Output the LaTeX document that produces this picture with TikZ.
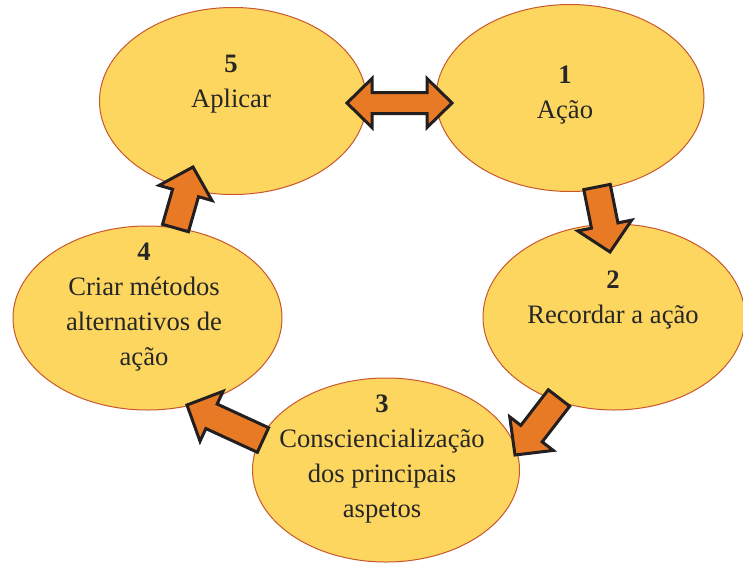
\documentclass[tikz,border=0pt]{standalone}
\usepackage{fontspec}
\setmainfont{Liberation Serif}
\usetikzlibrary{calc,shapes.geometric}
\definecolor{ellfill}{HTML}{FDD660}
\definecolor{ellline}{HTML}{C9572D}
\definecolor{arrfill}{HTML}{E87A25}
\definecolor{arrline}{HTML}{231F20}
\tikzset{
  ell/.style={ellipse, fill=ellfill, draw=ellline, line width=1pt, inner sep=0pt},
  blk/.style={fill=arrfill, draw=arrline, line width=3pt, line join=miter},
  txt/.style={align=center, anchor=base, inner sep=0pt, font=\fontsize{26.6}{35}\selectfont, text=black!85}
}
\newcommand{\blockarr}[2]{%
  \coordinate (hb) at ($(#2)!27pt!(#1)$);
  \filldraw[blk] ($(#1)!13.5pt!90:(#2)$) -- ($(hb)!13.5pt!90:(#2)$) -- ($(hb)!27.5pt!90:(#2)$) -- (#2)
    -- ($(hb)!27.5pt!-90:(#2)$) -- ($(hb)!13.5pt!-90:(#2)$) -- ($(#1)!13.5pt!-90:(#2)$) -- cycle;}
\newcommand{\doublearr}[2]{%
  \coordinate (ha) at ($(#1)!25pt!(#2)$);
  \coordinate (hb) at ($(#2)!25pt!(#1)$);
  \filldraw[blk] (#1) -- ($(ha)!24.5pt!90:(#2)$) -- ($(ha)!10.5pt!90:(#2)$) -- ($(hb)!10.5pt!-90:(#1)$)
    -- ($(hb)!24.5pt!-90:(#1)$) -- (#2) -- ($(hb)!24.5pt!90:(#1)$) -- ($(hb)!10.5pt!90:(#1)$)
    -- ($(ha)!10.5pt!-90:(#2)$) -- ($(ha)!24.5pt!-90:(#2)$) -- cycle;}
\begin{document}
\begin{tikzpicture}[x=1pt,y=-1pt]
\useasboundingbox (0,0) rectangle (743,565);
% ellipses
\node[ell, minimum width=267pt, minimum height=187pt] (e5) at (233,101) {};
\node[ell, minimum width=268pt, minimum height=187pt] (e1) at (570,98) {};
\node[ell, minimum width=262pt, minimum height=186pt] (e2) at (614,317) {};
\node[ell, minimum width=269pt, minimum height=184pt] (e4) at (147.5,318) {};
\node[ell, minimum width=267pt, minimum height=184pt] (e3) at (386,470) {};
% arrow ends
\coordinate (d5) at (347,103);
\coordinate (d1) at (452,103);
\coordinate (t12) at (597,187);
\coordinate (h12) at (610,252);
\coordinate (t23) at (559,398);
\coordinate (h23) at (515,455);
\coordinate (t34) at (263,440);
\coordinate (h34) at (187,405);
\coordinate (t45) at (175.5,228);
\coordinate (h45) at (193,167);
% arrows
\doublearr{d5}{d1}
\blockarr{t12}{h12}
\blockarr{t23}{h23}
\blockarr{t34}{h34}
\blockarr{t45}{h45}
% texts (base = last line)
\node[txt] (l5) at (231,107) {\textbf{5}\\Aplicar};
\node[txt] (l1) at (565,118) {\textbf{1}\\Ação};
\node[txt] (l2) at (613,323) {\textbf{2}\\Recordar a ação};
\node[txt] (l4) at (144,365) {\textbf{4}\\Criar métodos\\alternativos de\\ação};
\node[txt] (l3) at (382,517) {\textbf{3}\\Consciencialização\\dos principais\\aspetos};
\end{tikzpicture}
\end{document}
